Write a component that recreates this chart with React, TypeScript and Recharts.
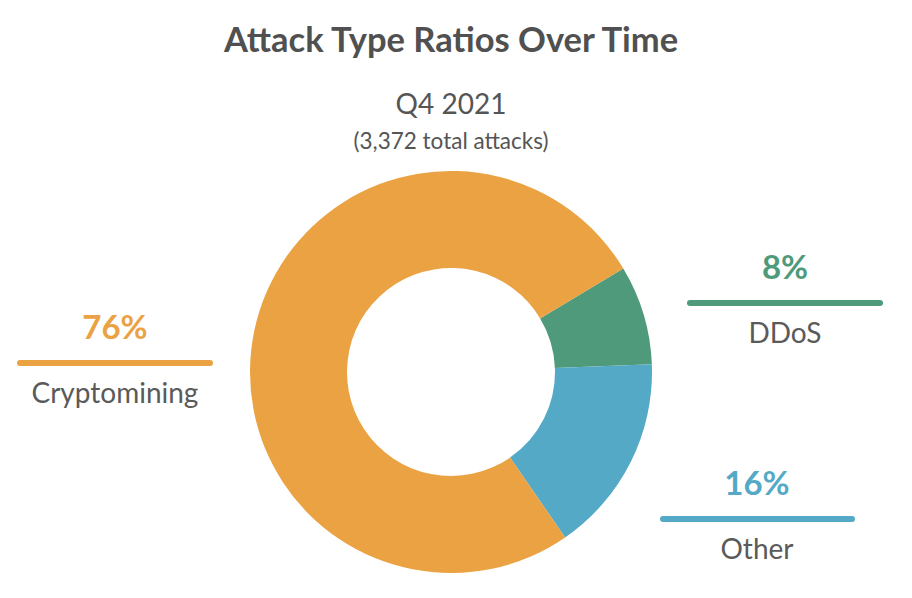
import React from "react";
import { PieChart, Pie, Cell } from "recharts";

const categories = ["DDoS", "Other", "Cryptomining"];
const shares = [8, 16, 76];
const colors = ["#4E9A7A", "#54A9C6", "#EBA243"];
const titleText = "Attack Type Ratios Over Time";
const periodText = "Q4 2021";
const totalText = "(3,372 total attacks)";

// label layout (positions only)
const labelLayout: Record<string, { x: number; x1: number; x2: number; y: number }> = {
  DDoS: { x: 785, x1: 690, x2: 880, y: 303 },
  Other: { x: 757, x1: 663, x2: 852, y: 519 },
  Cryptomining: { x: 115, x1: 20, x2: 210, y: 363 },
};

const data = categories.map((name, i) => ({ name, value: shares[i], color: colors[i] }));

const FONT = "Lato, 'Open Sans', sans-serif";

const renderLabel = (props: any) => {
  const d = data[props.index];
  const l = labelLayout[d.name];
  return (
    <g key={d.name}>
      <text x={l.x} y={l.y - 24} textAnchor="middle" fontFamily={FONT} fontWeight={700} fontSize={33} fill={d.color}>
        {`${d.value}%`}
      </text>
      <line x1={l.x1} x2={l.x2} y1={l.y} y2={l.y} stroke={d.color} strokeWidth={6} strokeLinecap="round" />
      <text x={l.x} y={l.y + 40} textAnchor="middle" fontFamily={FONT} fontWeight={400} fontSize={28} fill="#5a5a5a">
        {d.name}
      </text>
    </g>
  );
};

export default function App() {
  return (
    <div style={{ position: "absolute", left: 0, top: 0, width: 912, height: 598, background: "#fff" }}>
      <PieChart width={912} height={598} margin={{ top: 0, right: 0, bottom: 0, left: 0 }}>
        <text x={451} y={52} textAnchor="middle" fontFamily={FONT} fontWeight={700} fontSize={34.5} fill="#505050">
          {titleText}
        </text>
        <text x={451} y={114} textAnchor="middle" fontFamily={FONT} fontWeight={400} fontSize={28} fill="#555">
          {periodText}
        </text>
        <text x={451} y={149} textAnchor="middle" fontFamily={FONT} fontWeight={400} fontSize={22.5} fill="#555">
          {totalText}
        </text>
        <Pie
          data={data}
          dataKey="value"
          nameKey="name"
          cx={451}
          cy={372}
          innerRadius={104}
          outerRadius={201}
          startAngle={31}
          endAngle={-329}
          stroke="none"
          isAnimationActive={false}
          label={renderLabel}
          labelLine={false}
        >
          {data.map((d) => (
            <Cell key={d.name} fill={d.color} />
          ))}
        </Pie>
      </PieChart>
    </div>
  );
}
